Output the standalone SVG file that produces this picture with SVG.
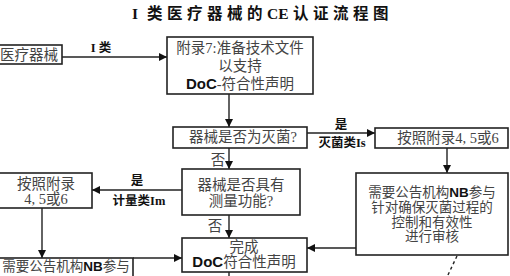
<svg xmlns="http://www.w3.org/2000/svg" width="510" height="276" viewBox="0 0 510 276">
<defs>
<marker id="ah" viewBox="0 0 10 10" refX="10" refY="5" markerWidth="8" markerHeight="8" markerUnits="userSpaceOnUse" orient="auto">
<path d="M0,0 L10,5 L0,10 z" fill="#111"/>
</marker>
<style>
.box{fill:#fff;stroke:#222;stroke-width:1.6}
.t{font-family:"Liberation Serif","Noto Sans CJK SC",serif;font-size:14.5px;fill:#444;text-anchor:middle}
.s{font-size:13.5px}
.b{font-family:"Liberation Sans","Noto Sans CJK SC",sans-serif;font-weight:900;fill:#111}
.lab{font-family:"Liberation Serif","Noto Sans CJK SC",serif;font-size:12.5px;font-weight:bold;fill:#111;text-anchor:middle}
.c{fill:none;stroke:#222;stroke-width:1.4}
.title{font-family:"Liberation Serif","Noto Sans CJK SC",serif;font-size:15.5px;font-weight:bold;fill:#111}
</style>
</defs>
<rect width="510" height="276" fill="#fff"/>
<g id="title">
<text class="title" x="132" y="19" font-size="17">I</text>
<text class="title" x="147" y="19" letter-spacing="4.5">类医疗器械的<tspan letter-spacing="0">C</tspan>E认证流程图</text>
</g>
<g id="connectors">
<line class="c" x1="62" y1="57" x2="167" y2="57" marker-end="url(#ah)"/>
<line class="c" x1="229" y1="94" x2="229" y2="127" marker-end="url(#ah)"/>
<line class="c" x1="307" y1="133" x2="375" y2="133" marker-end="url(#ah)"/>
<line class="c" x1="229" y1="148" x2="229" y2="169" marker-end="url(#ah)"/>
<line class="c" x1="447" y1="148" x2="447" y2="173" marker-end="url(#ah)"/>
<line class="c" x1="182" y1="190" x2="92" y2="190" marker-end="url(#ah)"/>
<line class="c" x1="42" y1="208" x2="42" y2="258" marker-end="url(#ah)"/>
<line class="c" x1="133" y1="258" x2="182" y2="258" marker-end="url(#ah)"/>
<line class="c" x1="229" y1="215" x2="229" y2="238" marker-end="url(#ah)"/>
<line class="c" x1="356" y1="248" x2="307" y2="248" marker-end="url(#ah)"/>
<line class="c" x1="229" y1="272" x2="229" y2="277"/>
<line class="c" x1="457" y1="256" x2="447" y2="277" stroke-dasharray="3,3"/>
<text class="lab" x="101" y="52">I 类</text>
<text class="lab" x="341" y="129">是</text>
<text class="lab" x="342" y="147">灭菌类Is</text>
<text class="t" x="218" y="165">否</text>
<text class="lab" x="137" y="185">是</text>
<text class="lab" x="139" y="205">计量类Im</text>
<text class="t" x="215" y="231">否</text>
</g>
<g id="n1">
<rect class="box" x="-10" y="45" width="72" height="19"/>
<text class="t" x="29" y="60">医疗器械</text>
</g>
<g id="n2">
<rect class="box" x="167" y="37" width="146" height="57"/>
<text class="t" x="240" y="53" font-size="15">附录7:准备技术文件</text>
<text class="t" x="240" y="71">以支持</text>
<text class="t" x="240" y="89"><tspan class="b" font-size="15">DoC</tspan>-符合性声明</text>
</g>
<g id="n3">
<rect class="box" x="173" y="127" width="134" height="21"/>
<text class="t" x="243" y="142">器械是否为灭菌?</text>
</g>
<g id="n4">
<rect class="box" x="375" y="128" width="133" height="20"/>
<text class="t" x="448" y="143">按照附录4, 5或6</text>
</g>
<g id="n5">
<rect class="box" x="182" y="169" width="118" height="46"/>
<text class="t" x="241" y="190">器械是否具有</text>
<text class="t" x="241" y="206">测量功能?</text>
</g>
<g id="n6">
<rect class="box" x="-1" y="173" width="93" height="35"/>
<text class="t" x="46" y="189">按照附录</text>
<text class="t" x="46" y="204">4, 5或6</text>
</g>
<g id="n7">
<rect class="box" x="356" y="173" width="152" height="82"/>
<text class="t s" x="432" y="197"><tspan>需要公告机构</tspan><tspan class="b">NB</tspan><tspan>参与</tspan></text>
<text class="t s" x="432" y="212">针对确保灭菌过程的</text>
<text class="t s" x="432" y="226.5">控制和有效性</text>
<text class="t s" x="432" y="241">进行审核</text>
</g>
<g id="n8">
<rect class="box" x="-1" y="258" width="134" height="40"/>
<text class="t s" x="66" y="271"><tspan>需要公告机构</tspan><tspan class="b">NB</tspan><tspan>参与</tspan></text>
</g>
<g id="n9">
<rect class="box" x="182" y="238" width="125" height="34"/>
<text class="t" x="244" y="252">完成</text>
<text class="t" x="244" y="267"><tspan class="b" font-size="15">DoC</tspan>符合性声明</text>
</g>
</svg>
